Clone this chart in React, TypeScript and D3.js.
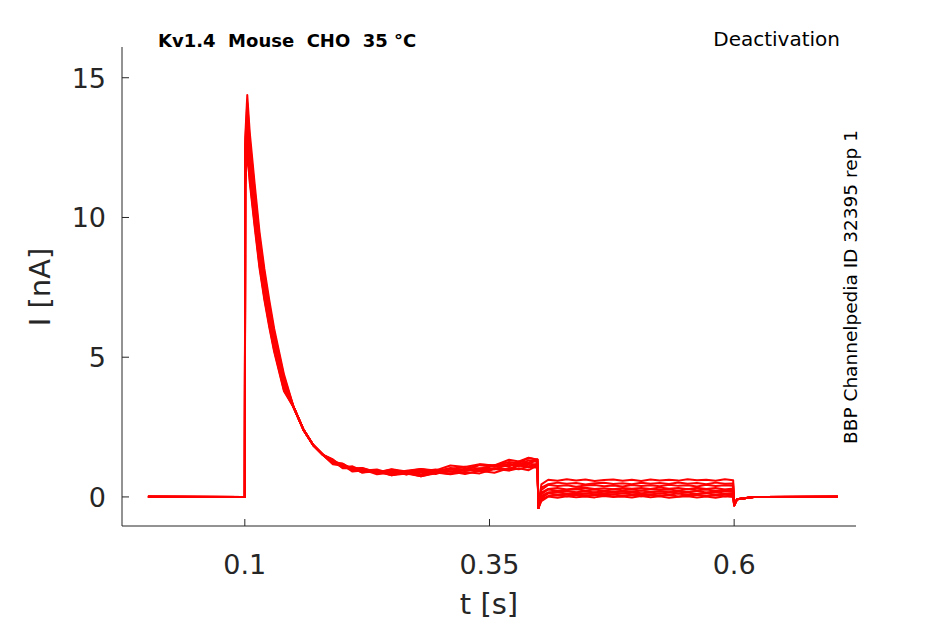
import { useEffect, useRef } from 'react';
import * as d3 from 'd3';

// shared time course of the activating step (t in s, I in nA)
const decayT = [0.1, 0.1004, 0.1025, 0.105, 0.11, 0.115, 0.12, 0.125, 0.13, 0.14, 0.15, 0.16, 0.17, 0.18, 0.19, 0.2, 0.21, 0.22, 0.235, 0.25, 0.265, 0.28, 0.295, 0.31, 0.325, 0.34, 0.355, 0.37, 0.38, 0.39, 0.399];
const decayI = [0, 12.6, 14.1, 12.8, 11.0, 9.3, 8.0, 6.9, 5.9, 4.3, 3.2, 2.4, 1.85, 1.5, 1.25, 1.1, 1.0, 0.95, 0.9, 0.87, 0.86, 0.87, 0.89, 0.92, 0.95, 0.99, 1.03, 1.08, 1.12, 1.16, 1.2];
// per sweep: peak scaling, plateau offset, deactivation level
const peakScale = [1.02, 1.0, 0.98, 0.97, 0.95, 0.94, 0.92, 0.9, 0.89, 0.88];
const plateauOffset = [0.1, -0.12, 0.05, 0.15, -0.05, 0.0, -0.15, 0.08, -0.08, 0.2];
const deactLevel = [0.6, 0.48, 0.4, 0.3, 0.25, 0.19, 0.14, 0.1, 0.05, 0.0];
const noise = [0.04, -0.06, 0.08, -0.03, 0.05, -0.08, 0.02, 0.07, -0.05, 0.03, -0.07, 0.06, -0.02, 0.04, -0.04, 0.09, -0.01];
const xTicks = [0.1, 0.35, 0.6];
const yTicks = [0, 5, 10, 15];

export default function App() {
  const ref = useRef<SVGSVGElement>(null);
  useEffect(() => {
    const svg = d3.select(ref.current);
    svg.selectAll('*').remove();
    const x = d3.scaleLinear().domain([-0.0255, 0.7245]).range([122, 856]);
    const y = d3.scaleLinear().domain([-1.04, 16.1]).range([526, 47]);
    const ink = '#262626';
    const font = 'DejaVu Sans, sans-serif';

    const line = d3.line<[number, number]>().x(d => x(d[0])).y(d => y(d[1]));
    const g = svg.append('g');
    peakScale.forEach((s, k) => {
      const pts: [number, number][] = [];
      pts.push([0.001, 0.01 * (k % 3)]);
      pts.push([0.0995, 0]);
      decayT.forEach((t, i) => {
        let v = decayI[i] * (t < 0.15 ? s : 1);
        if (t >= 0.19) v += plateauOffset[k] * ((t - 0.19) / 0.21) + noise[(i + k) % noise.length];
        pts.push([t, v]);
      });
      pts.push([0.4, -0.4]);
      pts.push([0.403, deactLevel[k] - 0.15]);
      for (let j = 0; j < 20; j++) {
        pts.push([0.41 + j * 0.0095, deactLevel[k] + noise[(j + k) % noise.length] * 0.4]);
      }
      pts.push([0.599, deactLevel[k]]);
      pts.push([0.6, -0.3]);
      pts.push([0.603, -0.08]);
      pts.push([0.62, 0]);
      pts.push([0.706, 0.01]);
      g.append('path').attr('d', line(pts)).attr('fill', 'none')
        .attr('stroke', '#ff0000').attr('stroke-width', 2).attr('stroke-linejoin', 'round');
    });

    // axes
    svg.append('line').attr('x1', 122).attr('x2', 856).attr('y1', 526).attr('y2', 526).attr('stroke', ink);
    svg.append('line').attr('x1', 122).attr('x2', 122).attr('y1', 47).attr('y2', 526).attr('stroke', ink);
    xTicks.forEach(t => {
      svg.append('line').attr('x1', x(t)).attr('x2', x(t)).attr('y1', 526).attr('y2', 519).attr('stroke', ink);
      svg.append('text').attr('x', x(t)).attr('y', 574).attr('text-anchor', 'middle')
        .attr('font-family', font).attr('font-size', 27).attr('fill', ink).text(String(t));
    });
    yTicks.forEach(v => {
      svg.append('line').attr('x1', 122).attr('x2', 129).attr('y1', y(v)).attr('y2', y(v)).attr('stroke', ink);
      svg.append('text').attr('x', 106).attr('y', y(v) + 10).attr('text-anchor', 'end')
        .attr('font-family', font).attr('font-size', 27).attr('fill', ink).text(String(v));
    });
    svg.append('text').attr('x', 489).attr('y', 614).attr('text-anchor', 'middle')
      .attr('font-family', font).attr('font-size', 29).attr('fill', ink).text('t [s]');
    svg.append('text').attr('transform', 'translate(50,287) rotate(-90)').attr('text-anchor', 'middle')
      .attr('font-family', font).attr('font-size', 29).attr('fill', ink).text('I [nA]');
    svg.append('text').attr('x', 158).attr('y', 47).attr('font-family', font).attr('font-weight', 'bold')
      .attr('font-size', 18).attr('fill', '#000').style('white-space', 'pre').text('Kv1.4  Mouse  CHO  35 °C');
    svg.append('text').attr('x', 840).attr('y', 46).attr('text-anchor', 'end').attr('font-family', font)
      .attr('font-size', 20).attr('fill', '#000').text('Deactivation');
    svg.append('text').attr('transform', 'translate(857,287) rotate(-90)').attr('text-anchor', 'middle')
      .attr('font-family', font).attr('font-size', 18.5).attr('fill', '#000').text('BBP Channelpedia ID 32395 rep 1');
  }, []);
  return (
    <svg ref={ref} width={945} height={624}
      style={{ position: 'absolute', left: 0, top: 0, background: '#fff' }} />
  );
}
